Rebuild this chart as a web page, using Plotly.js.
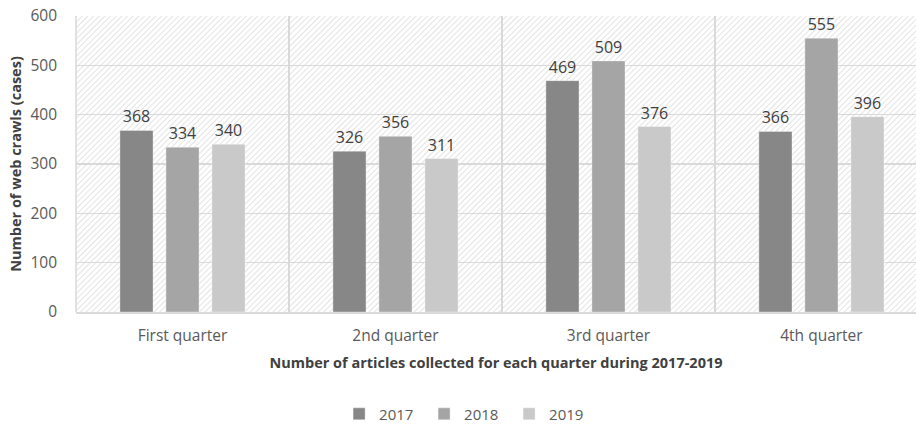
<!DOCTYPE html>
<html>
<head>
<meta charset="utf-8">
<script src="https://cdn.plot.ly/plotly-3.0.1.min.js"></script>
<style>html,body{margin:0;padding:0;background:#fff;}#chart{width:916px;height:425px;}</style>
</head>
<body>
<div id="chart"></div>
<script>
const categories = ["First quarter", "2nd quarter", "3rd quarter", "4th quarter"];
const seriesNames = ["2017", "2018", "2019"];
const values2017 = [368, 326, 469, 366];
const values2018 = [334, 356, 509, 555];
const values2019 = [340, 311, 376, 396];
const colors = ["#878787", "#a5a5a5", "#c9c9c9"];
const yTicks = [0, 100, 200, 300, 400, 500, 600];

const W = 916, H = 425;
const M = {l: 76, r: 0, t: 16, b: 113};
const pw = W - M.l - M.r, ph = H - M.t - M.b;

const hatch = `<svg xmlns="http://www.w3.org/2000/svg" width="${pw}" height="${ph}"><defs><pattern id="p" width="4" height="4" patternUnits="userSpaceOnUse" patternTransform="rotate(45)"><rect width="4" height="4" fill="#ffffff"/><line x1="0" y1="0" x2="0" y2="4" stroke="#e3e3e3" stroke-width="2"/></pattern></defs><rect width="${pw}" height="${ph}" fill="url(#p)"/></svg>`;
const hatchSrc = "data:image/svg+xml;base64," + btoa(hatch);

const allVals = [values2017, values2018, values2019];
const traces = allVals.map((v, i) => ({
  type: "bar",
  name: seriesNames[i],
  x: categories,
  y: v,
  marker: {color: colors[i], line: {color: "rgba(255,255,255,0.35)", width: 1}},
  text: v.map(String),
  textposition: "outside",
  constraintext: "none",
  cliponaxis: false,
  textfont: {family: "Open Sans, sans-serif", size: 16, color: "#404040"},
  hoverinfo: "x+y+name"
}));

const layout = {
  width: W, height: H,
  autosize: false,
  margin: Object.assign({autoexpand: false}, M),
  paper_bgcolor: "#ffffff",
  plot_bgcolor: "rgba(0,0,0,0)",
  font: {family: "Open Sans, sans-serif", color: "#595959"},
  barmode: "group",
  bargap: 0.352,
  bargroupgap: 0.28,
  showlegend: true,
  legend: {
    orientation: "h", x: 0.465, xanchor: "center", y: -0.345, yanchor: "middle",
    font: {size: 15, color: "#595959"},
    traceorder: "normal",
    entrywidth: 40, entrywidthmode: "pixels", itemwidth: 30
  },
  xaxis: {
    type: "category",
    range: [-0.5, 3.444],
    tickson: "boundaries",
    automargin: false,
    tickangle: 0,
    showgrid: true, gridcolor: "#d9d9d9", gridwidth: 1.5,
    showline: true, linecolor: "#d9d9d9", linewidth: 1.5,
    ticks: "", ticklabelstandoff: 9,
    tickfont: {size: 15.5, color: "#595959"},
    title: {text: "Number of articles collected for each quarter during 2017-2019",
            font: {size: 14.5, color: "#404040", weight: "bold"}, standoff: 13},
    fixedrange: true
  },
  yaxis: {
    range: [0, 600],
    tickvals: yTicks,
    automargin: false,
    showgrid: true, gridcolor: "#d9d9d9", gridwidth: 1.5,
    zeroline: false,
    showline: false,
    ticks: "", ticklabelstandoff: 18,
    tickfont: {size: 15.5, color: "#595959"},
    title: {text: "Number of web crawls (cases)",
            font: {size: 14.5, color: "#404040", weight: "bold"}, standoff: 5},
    fixedrange: true
  },
  images: [{
    source: hatchSrc, xref: "paper", yref: "paper",
    x: 0, y: 1, sizex: 1, sizey: 1, sizing: "stretch", layer: "below",
    xanchor: "left", yanchor: "top"
  }],
  shapes: [{type: "line", xref: "paper", yref: "paper", x0: 0, x1: 0, y0: 0, y1: 1,
            line: {color: "#d9d9d9", width: 1.5}}]
};

Plotly.newPlot("chart", traces, layout, {displayModeBar: false, staticPlot: true});
</script>
</body>
</html>
